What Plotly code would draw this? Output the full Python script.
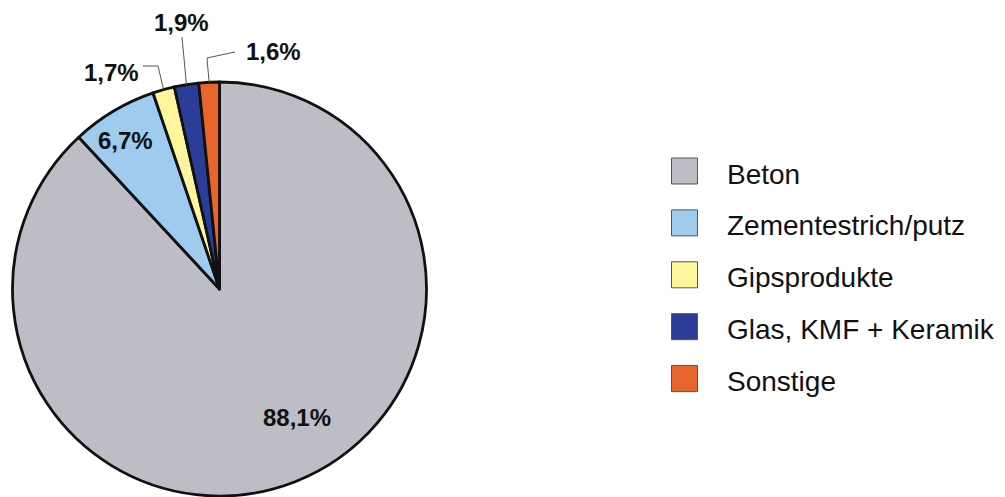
import math
import plotly.graph_objects as go

# ---- data ----
categories = ["Beton", "Zementestrich/putz", "Gipsprodukte", "Glas, KMF + Keramik", "Sonstige"]
values = [88.1, 6.7, 1.7, 1.9, 1.6]
colors = ["#bdbdc6", "#9ecbee", "#fff59c", "#2c3d97", "#e8652b"]

# ---- layout constants (pixels) ----
W, H = 1005, 497
CX, CY, R = 219.5, 289.0, 207.0
FONT = "Liberation Sans, Arial, sans-serif"

def px(x, y):
    return x / W, 1 - y / H

labels = [f"{v:.1f}".replace(".", ",") + "%" for v in values]

# label centre positions (pixels) and optional leader elbows
label_pos = [(297, 417), (125, 141), (111, 72), (181, 22.5), (273, 51.5)]
leader = [None, None, [(158, 66), (143, 66)], [(182, 37)], [(207, 58), (235, 52)]]

fig = go.Figure()

fig.add_trace(go.Pie(
    labels=categories, values=values, sort=False, direction="clockwise", rotation=0,
    marker=dict(colors=colors, line=dict(color="#111111", width=2.8)),
    textinfo="none", hoverinfo="label+percent", showlegend=False,
    domain=dict(x=[(CX - R) / W, (CX + R) / W], y=[1 - (CY + R) / H, 1 - (CY - R) / H]),
))

annotations = []
shapes = []
total = sum(values)
cum = 0.0
for i, v in enumerate(values):
    mid = (cum + v / 2) / total * 2 * math.pi
    cum += v
    lx, ly = label_pos[i]
    xp, yp = px(lx, ly)
    annotations.append(dict(x=xp, y=yp, xref="paper", yref="paper", text=labels[i],
                            showarrow=False, xanchor="center", yanchor="middle",
                            font=dict(family=FONT, size=24, color="#111111", weight="bold")))
    if leader[i]:
        sx = CX + R * math.sin(mid)
        sy = CY - R * math.cos(mid)
        pts = [(sx, sy)] + leader[i]
        path = ""
        for j, (a, b) in enumerate(pts):
            pa, pb = px(a, b)
            path += ("M" if j == 0 else " L") + f" {pa:.5f},{pb:.5f}"
        shapes.append(dict(type="path", path=path, xref="paper", yref="paper",
                           line=dict(color="#555555", width=1)))

# ---- custom legend via scatter on hidden axes ----
leg_x0, leg_text_x = 684.5, 725.0
leg_y0, leg_dy = 171.0, 51.9
unit_x = leg_text_x - leg_x0
xa = -leg_x0 / unit_x
xb = xa + W / unit_x
span_y = H / leg_dy
r1 = -leg_y0 / leg_dy
r0 = r1 + span_y

idx = list(range(len(categories)))
fig.add_trace(go.Scatter(
    x=[0] * len(categories), y=idx, mode="markers",
    marker=dict(symbol="square", size=26, color=colors, line=dict(color="#555555", width=1)),
    hoverinfo="skip", showlegend=False, xaxis="x", yaxis="y",
))
for i, c in enumerate(categories):
    annotations.append(dict(x=1, y=i, xref="x", yref="y", text=c, showarrow=False,
                            xanchor="left", yanchor="middle", yshift=-3,
                            font=dict(family=FONT, size=28, color="#111111")))

fig.update_layout(
    width=W, height=H, margin=dict(l=0, r=0, t=0, b=0),
    paper_bgcolor="white", plot_bgcolor="rgba(0,0,0,0)",
    xaxis=dict(range=[xa, xb], visible=False, fixedrange=True, domain=[0, 1]),
    yaxis=dict(range=[r0, r1], visible=False, fixedrange=True, domain=[0, 1]),
    annotations=annotations, shapes=shapes, showlegend=False,
)

fig.write_html("out.html")
